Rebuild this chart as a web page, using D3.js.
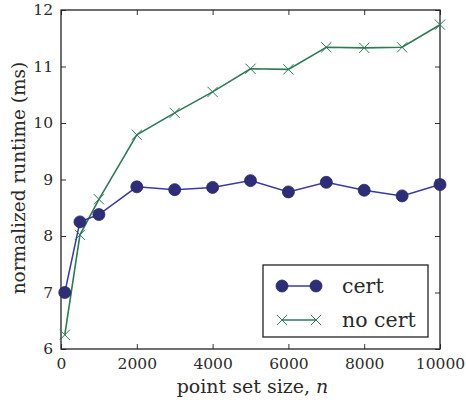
<!DOCTYPE html>
<html>
<head>
<meta charset="utf-8">
<script src="https://cdn.jsdelivr.net/npm/d3@7"></script>
<style>
  html, body { margin: 0; padding: 0; background: #fff; }
</style>
</head>
<body>
<svg id="fig" width="466" height="400"></svg>
<script>
// Point set sizes and normalized runtimes (ms)
const sizes = [100, 500, 1000, 2000, 3000, 4000, 5000, 6000, 7000, 8000, 9000, 10000];
const certRuntime = [7.0, 8.25, 8.38, 8.87, 8.82, 8.86, 8.98, 8.78, 8.95, 8.81, 8.71, 8.91];
const noCertRuntime = [6.25, 8.02, 8.65, 9.79, 10.18, 10.55, 10.96, 10.95, 11.34, 11.33, 11.34, 11.74];
const xTicks = [0, 2000, 4000, 6000, 8000, 10000];
const yTicks = [6, 7, 8, 9, 10, 11, 12];
const seriesNames = ["cert", "no cert"];

const FONT = "DejaVu Serif, Liberation Serif, serif";
const INK = "#2a2a2a";
const svg = d3.select("#fig");
const m = { left: 61, top: 10, right: 440, bottom: 349 };

const x = d3.scaleLinear().domain([0, 10000]).range([m.left, m.right]);
const y = d3.scaleLinear().domain([6, 12]).range([m.bottom, m.top]);

const blueLine = "#3a3aa6", blueFill = "#2e2e78";
const green = "#2f7a56";

// Axes with inward ticks on every side
const tick = 5;
const styleAxis = g => g.attr("font-family", FONT).attr("font-size", 15.5)
  .call(g => g.select(".domain").remove());
svg.append("g").attr("transform", `translate(0,${m.bottom})`)
  .call(d3.axisBottom(x).tickValues(xTicks).tickSize(-tick).tickPadding(9).tickFormat(d3.format("d")))
  .call(styleAxis);
svg.append("g").attr("transform", `translate(0,${m.top})`)
  .call(d3.axisTop(x).tickValues(xTicks).tickSize(-tick).tickFormat(""))
  .call(styleAxis);
svg.append("g").attr("transform", `translate(${m.left},0)`)
  .call(d3.axisLeft(y).tickValues(yTicks).tickSize(-tick).tickPadding(8).tickFormat(d3.format("d")))
  .call(styleAxis);
svg.append("g").attr("transform", `translate(${m.right},0)`)
  .call(d3.axisRight(y).tickValues(yTicks).tickSize(-tick).tickFormat(""))
  .call(styleAxis);

svg.selectAll(".tick line").attr("stroke", "#333").attr("stroke-width", 1);
svg.selectAll(".tick text").attr("font-family", FONT).attr("font-size", 15.5)
  .attr("font-weight", 300).attr("fill", INK);

// Frame
svg.append("rect")
  .attr("x", m.left).attr("y", m.top)
  .attr("width", m.right - m.left).attr("height", m.bottom - m.top)
  .attr("fill", "none").attr("stroke", "#222").attr("stroke-width", 1.3);

const line = d3.line().x(d => x(d[0])).y(d => y(d[1]));
const certPts = sizes.map((s, i) => [s, certRuntime[i]]);
const noCertPts = sizes.map((s, i) => [s, noCertRuntime[i]]);

// no cert series
svg.append("path").datum(noCertPts).attr("d", line)
  .attr("fill", "none").attr("stroke", green).attr("stroke-width", 1.6);
const cross = d3.symbol().type(d3.symbolTimes).size(70);
svg.append("g").selectAll("path").data(noCertPts).join("path")
  .attr("d", cross)
  .attr("transform", d => `translate(${x(d[0])},${y(d[1])})`)
  .attr("fill", "none").attr("stroke", green).attr("stroke-width", 1);

// cert series
svg.append("path").datum(certPts).attr("d", line)
  .attr("fill", "none").attr("stroke", blueLine).attr("stroke-width", 1.5);
svg.append("g").selectAll("circle").data(certPts).join("circle")
  .attr("cx", d => x(d[0])).attr("cy", d => y(d[1])).attr("r", 6)
  .attr("fill", blueFill).attr("stroke", "#26265e").attr("stroke-width", 0.8);

// Axis titles
const xLabel = svg.append("text").attr("x", 252.5).attr("y", 393)
  .attr("text-anchor", "middle").attr("font-family", FONT).attr("font-size", 19)
  .attr("fill", INK);
xLabel.append("tspan").text("point set size, ");
xLabel.append("tspan").attr("font-style", "italic").text("n");
svg.append("text")
  .attr("transform", "translate(25,178) rotate(-90)")
  .attr("text-anchor", "middle").attr("font-family", FONT).attr("font-size", 18.5)
  .attr("fill", INK)
  .text("normalized runtime (ms)");

// Legend
const lg = svg.append("g");
lg.append("rect").attr("x", 263).attr("y", 265).attr("width", 165).attr("height", 72)
  .attr("fill", "#fff").attr("stroke", "#222").attr("stroke-width", 1.3);
const rows = [
  { name: seriesNames[0], y: 286 },
  { name: seriesNames[1], y: 320 }
];
// cert row
lg.append("line").attr("x1", 282).attr("x2", 316).attr("y1", rows[0].y).attr("y2", rows[0].y)
  .attr("stroke", blueLine).attr("stroke-width", 1.5);
[282, 316].forEach(cx => lg.append("circle").attr("cx", cx).attr("cy", rows[0].y).attr("r", 6)
  .attr("fill", blueFill).attr("stroke", "#26265e").attr("stroke-width", 0.8));
// no cert row
lg.append("line").attr("x1", 282).attr("x2", 316).attr("y1", rows[1].y).attr("y2", rows[1].y)
  .attr("stroke", green).attr("stroke-width", 1.6);
[282, 316].forEach(cx => lg.append("path").attr("d", cross)
  .attr("transform", `translate(${cx},${rows[1].y})`)
  .attr("fill", "none").attr("stroke", green).attr("stroke-width", 1));
rows.forEach(r => lg.append("text").attr("x", 342).attr("y", r.y + 7)
  .attr("font-family", FONT).attr("font-size", 20.5).attr("fill", INK)
  .text(r.name));
</script>
</body>
</html>
